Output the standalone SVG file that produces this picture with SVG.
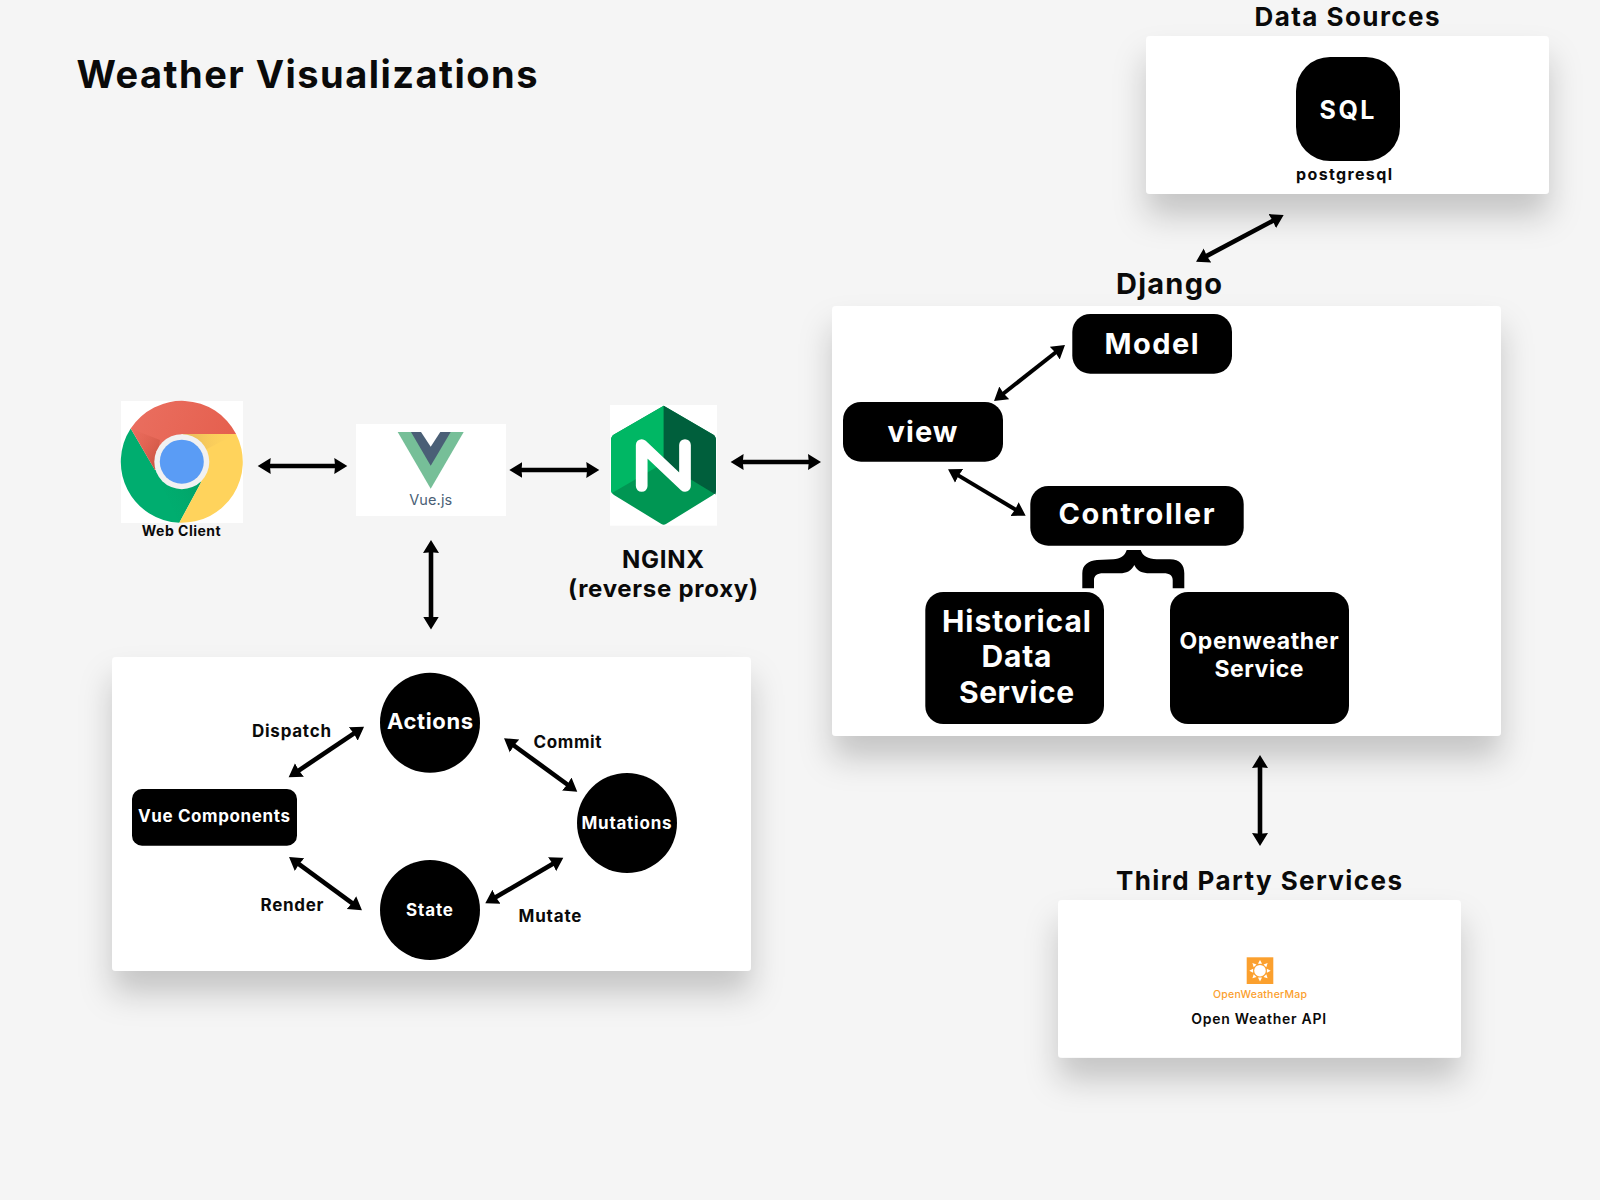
<svg xmlns="http://www.w3.org/2000/svg" width="1600" height="1200" viewBox="0 0 1600 1200">
<style>
text{font-family:Inter,"Liberation Sans",sans-serif;text-anchor:middle;font-weight:700;fill:#0a0a0a}
.w{fill:#fff}
.k{fill:#000}
.panel{fill:#fff;filter:url(#sh)}
.box{fill:#000}
.arrow{stroke:#000;stroke-width:4.600;fill:none;marker-start:url(#ah);marker-end:url(#ah)}
.thin{stroke-width:4}
</style>
<defs>
<filter id="sh" x="-25%" y="-30%" width="150%" height="190%"><feDropShadow dx="0" dy="22" stdDeviation="16" flood-color="#000" flood-opacity="0.2"/></filter>
<marker id="ah" markerUnits="userSpaceOnUse" markerWidth="15" markerHeight="18" refX="5" refY="9" orient="auto-start-reverse"><polygon points="0,1 13,9 0,17 0.800,9" fill="#000"/></marker>
<linearGradient id="redg" x1="0" y1="0" x2="1" y2="0.3"><stop offset="0" stop-color="#EA6F60"/><stop offset="1" stop-color="#E5604F"/></linearGradient>
<linearGradient id="reds" x1="0" y1="0" x2="1" y2="1"><stop offset="0" stop-color="#E5604F" stop-opacity="0"/><stop offset="1" stop-color="#B84A38" stop-opacity="0.8"/></linearGradient>
<linearGradient id="yels" x1="0" y1="0" x2="1" y2="0"><stop offset="0" stop-color="#E3B45A"/><stop offset="1" stop-color="#FFD35C" stop-opacity="0"/></linearGradient>
<linearGradient id="gres" x1="1" y1="0" x2="0" y2="0.6"><stop offset="0" stop-color="#0B8A57"/><stop offset="1" stop-color="#00AD6F" stop-opacity="0"/></linearGradient>
</defs>
<rect width="1600" height="1200" fill="#f5f5f5"/>

<text id="title" x="307" y="88" font-size="38" textLength="461">Weather Visualizations</text>

<g id="data-sources">
<rect class="panel" x="1146" y="36" width="403" height="158" rx="4"/>
<text x="1347" y="26" font-size="26" textLength="185">Data Sources</text>
<rect class="box" x="1296" y="57" width="104" height="104" rx="34"/>
<text class="w" x="1347" y="118.500" font-size="25" textLength="55">SQL</text>
<text x="1344" y="180" font-size="16" textLength="96">postgresql</text>
</g>

<g id="django">
<rect class="panel" x="832" y="306" width="669" height="430" rx="4"/>
<text x="1169" y="294" font-size="29" textLength="106">Django</text>
</g>
<g id="model"><rect class="box" x="1072.300" y="314" width="159.700" height="59.700" rx="18"/><text class="w" x="1151.500" y="353.700" font-size="29" textLength="94">Model</text></g>
<g id="view"><rect class="box" x="843" y="402" width="160" height="59.700" rx="18"/><text class="w" x="922.500" y="441.700" font-size="29" textLength="70">view</text></g>
<g id="controller"><rect class="box" x="1030.300" y="486" width="213.400" height="59.700" rx="18"/><text class="w" x="1136.500" y="524" font-size="29" textLength="156">Controller</text></g>
<g id="historical-data-service"><rect class="box" x="925.300" y="592" width="178.700" height="132" rx="18"/>
<text class="w" x="1016.500" y="631.700" font-size="30" textLength="149">Historical</text>
<text class="w" x="1016.500" y="667" font-size="30" textLength="70">Data</text>
<text class="w" x="1016.500" y="702.700" font-size="30" textLength="115">Service</text></g>
<g id="openweather-service"><rect class="box" x="1170" y="592" width="179" height="132" rx="18"/>
<text class="w" x="1259" y="649" font-size="23" textLength="159">Openweather</text>
<text class="w" x="1259" y="677" font-size="23" textLength="89">Service</text></g>

<g id="web-client">
<rect x="121" y="401" width="122" height="122" fill="#fff"/>
<path d="M130.700,428.500A61,61 0 0 0 179.300,522.750L205,475L155,470Z" fill="#00AD6F"/>
<path d="M155,470L179.300,522.750L205,475L180,490Z" fill="url(#gres)" opacity=".5"/>
<path d="M236.100,434A61,61 0 0 1 179.300,522.750L200.700,483L205,450L182,434Z" fill="#FFD35C"/>
<path d="M130.700,428.500A61,61 0 0 1 236.100,434L182,434L155,470Z" fill="url(#redg)"/>
<path d="M130.700,428.500L155,470L160,440Z" fill="url(#reds)"/>
<path d="M182,434L236.100,434L205,450Z" fill="url(#yels)"/>
<circle cx="181.800" cy="461.700" r="27.500" fill="#f1f1f1"/>
<circle cx="181.800" cy="461.700" r="22" fill="#5A9CF5"/>
<text x="181.200" y="535.700" font-size="14" textLength="79">Web Client</text>
</g>

<g id="vue">
<rect x="356" y="424" width="150" height="92" fill="#fff"/>
<polygon points="397.700,432 463.700,432 430.700,488.700" fill="#76BF98"/>
<polygon points="411,432 450.700,432 430.700,465.700" fill="#4A5F76"/>
<polygon points="421,432 440.300,432 430.700,446.700" fill="#fff"/>
<text x="430.700" y="505" font-size="14.500" style="font-weight:400;fill:#4A5F76" textLength="43">Vue.js</text>
</g>

<g id="nginx">
<rect x="610" y="405" width="107" height="120.700" fill="#fff"/>
<path d="M663.700,405.700L713,434.500Q716,436.500 716,440V490Q716,493 713,495L666,524Q663.700,525.500 661.400,524L614,495Q611,493 611,490V440Q611,436.500 614,434.500Z" fill="#009653"/>
<path d="M663.700,405.700L614,434.500Q611,436.500 611,440V490Q611,492 612,493L663.700,463Z" fill="#00B764"/>
<path d="M663.700,405.700L713,434.500Q716,436.500 716,440V490Q716,492 715.500,494.500L663.700,463Z" fill="#005F3C"/>
<path d="M641.700,486V445L685,486V445" fill="none" stroke="#fff" stroke-width="11.700" stroke-linecap="round" stroke-linejoin="round"/>
<text x="663" y="568" font-size="24" textLength="82">NGINX</text>
<text x="663" y="597" font-size="24" textLength="190">(reverse proxy)</text>
</g>

<g id="vuex">
<rect class="panel" x="112" y="657" width="639" height="314" rx="4"/>
<text x="291.500" y="737.300" font-size="17" textLength="79">Dispatch</text>
<text x="292" y="911.300" font-size="17" textLength="63">Render</text>
<text x="567.500" y="747.700" font-size="17" textLength="68">Commit</text>
<text x="550" y="922.300" font-size="17" textLength="63">Mutate</text>
</g>
<g id="vue-components"><rect class="box" x="132" y="789" width="165" height="56.700" rx="10"/><text class="w" x="214" y="822.300" font-size="17" textLength="152">Vue Components</text></g>
<g id="actions"><circle class="k" cx="430" cy="722.700" r="50"/><text class="w" x="430" y="729.300" font-size="22" textLength="86">Actions</text></g>
<g id="mutations"><circle class="k" cx="627" cy="823" r="50"/><text class="w" x="626.500" y="829" font-size="17" textLength="90">Mutations</text></g>
<g id="state"><circle class="k" cx="430" cy="910" r="50"/><text class="w" x="429.500" y="915.700" font-size="17" textLength="47">State</text></g>

<g id="third-party">
<rect class="panel" x="1058" y="900" width="403" height="157.700" rx="4"/>
<text x="1259" y="890" font-size="26" textLength="286">Third Party Services</text>
<rect x="1246.700" y="957.300" width="26.600" height="26.700" fill="#FBA02E"/>
<circle cx="1260" cy="970.700" r="5.800" fill="#fff"/>
<g fill="#fff">
<polygon points="1258,963.800 1262,963.800 1260,960"/>
<polygon points="1258,977.600 1262,977.600 1260,981.400"/>
<polygon points="1253.100,968.700 1253.100,972.700 1249.300,970.700"/>
<polygon points="1266.900,968.700 1266.900,972.700 1270.700,970.700"/>
<polygon points="1256.500,964.400 1253.700,967.200 1252.400,963.100"/>
<polygon points="1263.500,964.400 1266.300,967.200 1267.600,963.100"/>
<polygon points="1253.700,974.200 1256.500,977 1252.400,978.300"/>
<polygon points="1266.300,974.200 1263.500,977 1267.600,978.300"/>
</g>
<text x="1260" y="998.300" font-size="10.500" style="font-weight:500;fill:#FBA02E" textLength="94">OpenWeatherMap</text>
<text x="1258.700" y="1024" font-size="14" style="font-weight:600" textLength="135">Open Weather API</text>
</g>

<g id="connectors">
<line class="arrow" x1="265.700" y1="466" x2="339.300" y2="466"/>
<line class="arrow" x1="517.300" y1="470" x2="591.300" y2="470"/>
<line class="arrow" x1="738.600" y1="462" x2="813" y2="462"/>
<line class="arrow" x1="431" y1="548" x2="431" y2="621.500"/>
<line class="arrow" x1="1260" y1="763" x2="1260" y2="838"/>
<line class="arrow" x1="1276.600" y1="218.800" x2="1203.100" y2="257.900"/>
<line class="arrow thin" x1="1058.700" y1="350" x2="1000.300" y2="396"/>
<line class="arrow thin" x1="954.900" y1="473.400" x2="1018.800" y2="511.600"/>
<line class="arrow" x1="357.400" y1="731.200" x2="295.300" y2="772.800"/>
<line class="arrow" x1="295.500" y1="861.700" x2="355.500" y2="905.600"/>
<line class="arrow" x1="510.500" y1="743" x2="570.800" y2="787"/>
<line class="arrow" x1="556.400" y1="861.700" x2="492.200" y2="899.300"/>
<path id="brace" fill="#000" d="M1082.300,588.300V573.300C1082.300,565 1088,561 1097,560L1113.300,559.300C1120,559 1125,556 1126.700,550H1140.700C1142.500,556 1148,559 1156.700,559.300H1170C1180,559.300 1184.300,565 1184.300,573.300V588.300H1172.700V580C1172.700,576 1170,573.300 1163.300,573.300H1150C1142,573.300 1137,571 1134.300,565C1131.500,571 1126,573.300 1120,573.300H1103.300C1097,573.300 1094,576 1094,580V588.300Z"/>
</g>
</svg>
